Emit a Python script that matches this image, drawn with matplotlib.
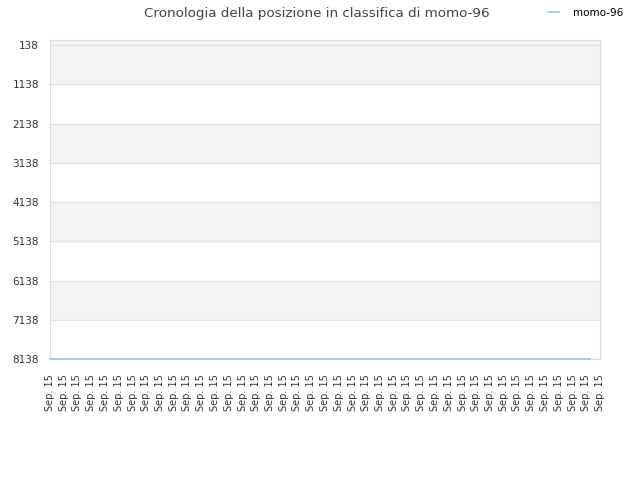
import matplotlib.pyplot as plt

# dati
giorni = ['Sep. 15'] * 41
posizioni = [8138] * 40
tick_y = [138, 1138, 2138, 3138, 4138, 5138, 6138, 7138, 8138]
nome = 'momo-96'

fig = plt.figure(figsize=(6.4, 4.8), dpi=100)
ax = fig.add_axes([50 / 640, 1 - 359 / 480, 550 / 640, 319 / 480])

# bande alternate
for i in range(len(tick_y) - 1):
    if i % 2 == 0:
        ax.axhspan(tick_y[i], tick_y[i + 1], color='#f3f3f3', zorder=0)
ax.axhspan(0, tick_y[0], color='#f3f3f3', zorder=0)

ax.plot([x * 39.3 / 39 for x in range(len(posizioni))], posizioni,
        color='#a0c8f0', linewidth=1.3, label=nome, zorder=3, clip_on=False)

ax.set_ylim(8138, 10)
ax.set_xlim(0, len(giorni) - 1)
ax.set_yticks(tick_y)
ax.set_yticklabels([str(t) for t in tick_y])
ax.set_xticks(range(len(giorni)))
ax.set_xticklabels(giorni, rotation=90)
ax.grid(axis='y', color='#e2e2e2', linewidth=0.8)
ax.set_axisbelow(True)

for s in ax.spines.values():
    s.set_color('#dddddd')
ax.tick_params(length=0, colors='#333333')
ax.tick_params(axis='y', labelsize=7.5, pad=8)
ax.tick_params(axis='x', labelsize=7, pad=11)

fig.text(317 / 640, 1 - 14 / 480, 'Cronologia della posizione in classifica di momo-96',
         ha='center', va='center', fontsize=9.7, color='#444444')
fig.legend(loc='center right', bbox_to_anchor=(633 / 640, 1 - 13 / 480), frameon=False,
           fontsize=7.5, handlelength=1.0, handletextpad=1.4)

fig.savefig('out.png', dpi=100)
